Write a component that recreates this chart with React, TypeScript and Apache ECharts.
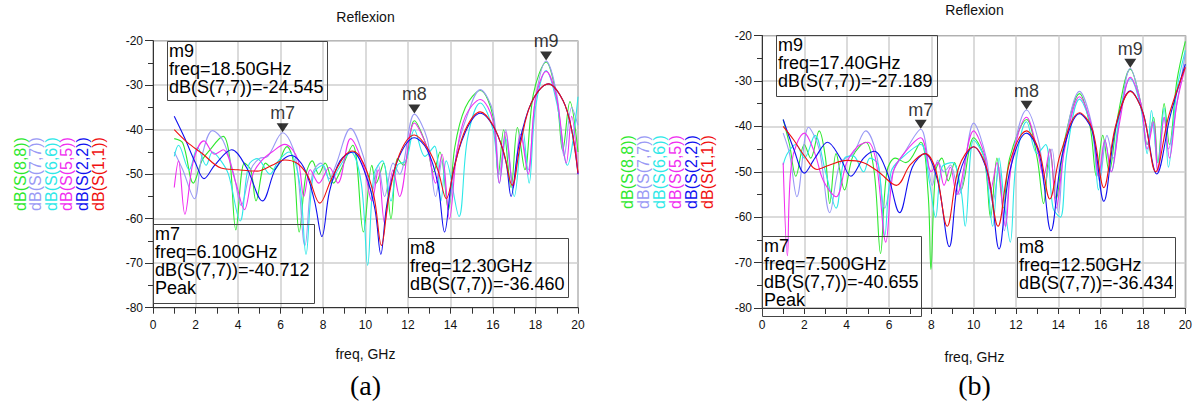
import React, { useEffect, useRef } from "react";
import * as echarts from "echarts";

type Pt = [number, number];

const seriesNames = ["dB(S(8,8))", "dB(S(7,7))", "dB(S(6,6))", "dB(S(5,5))", "dB(S(2,2))", "dB(S(1,1))"];
const seriesColors = ["#2ee82e", "#9a9af5", "#2ee8e8", "#f02ef0", "#1010f0", "#f01010"];

// ---------- panel (a) ----------
const s88a: Pt[] = [[1,-42],[1.4,-43],[1.9,-52],[2.3,-47],[2.6,-45],[3.3,-41.5],[3.6,-46],[3.9,-62.5],[4.3,-47.5],[4.6,-49],[4.85,-56],[5.3,-47.5],[5.7,-49],[6.3,-43.8],[6.6,-47],[6.88,-63],[7.2,-50],[7.5,-47],[7.8,-50],[8.1,-47.5],[8.5,-52],[8.75,-50],[9.4,-43.5],[9.9,-63],[10.3,-48],[10.5,-52],[10.85,-47.5],[11.2,-60],[11.5,-46.5],[11.8,-48],[12.3,-38],[12.9,-44],[13.2,-49.5],[13.5,-45],[13.9,-58],[14.2,-44],[14.7,-35],[15.4,-31.2],[16.0,-37],[16.25,-50],[16.5,-40],[16.85,-53],[17.15,-39.5],[17.5,-49],[17.9,-32],[18.5,-24.8],[19.0,-33],[19.28,-44.7],[19.62,-33.7],[20,-45]];
const s77a: Pt[] = [[1,-45],[1.4,-49],[1.95,-55.5],[2.3,-46],[2.8,-40.2],[3.3,-42.5],[3.8,-50],[4.15,-57],[4.6,-49],[5.0,-46.5],[5.4,-46],[6.1,-40.7],[6.7,-46],[7.15,-66],[7.5,-50],[7.9,-47.5],[8.3,-51],[8.6,-48],[9.3,-39.7],[9.9,-46],[10.3,-54],[10.6,-48],[10.9,-55],[11.3,-47.5],[11.6,-50],[12.3,-36.5],[12.9,-42],[13.3,-55],[13.6,-47],[13.9,-57],[14.3,-45],[14.7,-38],[15.4,-31],[16.0,-36],[16.3,-50],[16.6,-40],[16.95,-53],[17.3,-40],[17.65,-49],[18.0,-33],[18.5,-24.55],[19.0,-32],[19.35,-46],[19.7,-35],[20,-39]];
const s66a: Pt[] = [[1,-46],[1.2,-43.5],[1.7,-49],[2.1,-44],[2.5,-48],[2.8,-45],[3.2,-47],[3.55,-50],[4.1,-60.5],[4.5,-48],[4.9,-46.5],[5.5,-50],[5.9,-47],[6.4,-45],[6.9,-52],[7.2,-68],[7.55,-50],[8.0,-48],[8.35,-52],[8.7,-49],[9.3,-45],[9.8,-52],[10.1,-70.5],[10.4,-50],[10.8,-47],[11.2,-56],[11.5,-48],[11.9,-47],[12.3,-40],[12.8,-46],[13.25,-43.7],[13.55,-56],[13.8,-47],[14.4,-59.5],[14.8,-42],[15.4,-34],[16.0,-40],[16.3,-52],[16.6,-42],[17.0,-55],[17.4,-40],[17.7,-52],[18.0,-35],[18.5,-26.7],[19.0,-34],[19.5,-48],[20,-32.6]];
const s55a: Pt[] = [[1,-53],[1.2,-47],[1.5,-59],[1.9,-47],[2.4,-42.5],[2.9,-45.5],[3.3,-44.5],[3.9,-52],[4.3,-58],[4.7,-50],[5.1,-47],[5.6,-45],[6.2,-43.3],[6.8,-46.5],[7.1,-55],[7.4,-49],[7.8,-52],[8.3,-48.5],[8.7,-52],[9.3,-42],[9.9,-48],[10.3,-56],[10.6,-49],[10.9,-61],[11.3,-49],[11.6,-55],[12.3,-38.5],[12.9,-44],[13.3,-52],[13.6,-45.5],[13.95,-60],[14.3,-45],[14.7,-37],[15.4,-33.2],[16.0,-38],[16.3,-52],[16.6,-40.5],[16.95,-53],[17.3,-41],[17.65,-50],[18.0,-33],[18.5,-26.9],[19.0,-33],[19.45,-47.5],[19.7,-37],[20,-50]];
const s22a: Pt[] = [[1,-37],[1.5,-42],[2.0,-47.5],[2.4,-51],[2.9,-48],[3.7,-44.5],[4.4,-48.5],[5.15,-56],[5.8,-48.5],[6.5,-45.8],[7.1,-48.5],[7.6,-56],[7.95,-64],[8.3,-54],[8.8,-47],[9.4,-45],[10.0,-50],[10.45,-58],[10.72,-68],[11.0,-57],[11.5,-47],[12.3,-41.8],[12.9,-44.5],[13.4,-52],[13.72,-63],[14.1,-50],[14.7,-40.5],[15.4,-36.3],[16.1,-40],[16.6,-47],[16.85,-55],[17.2,-44],[17.8,-34],[18.6,-29.7],[19.3,-33.5],[19.7,-40],[20,-50]];
const s11a: Pt[] = [[1,-40],[1.6,-42.8],[2.3,-45.3],[3.2,-48.6],[4.0,-49],[4.9,-49.3],[5.6,-48],[6.2,-46.8],[6.8,-47.6],[7.3,-50.5],[7.85,-56.5],[8.4,-51],[9.0,-46],[9.4,-44.8],[9.9,-47.5],[10.4,-55],[10.75,-66],[11.1,-55],[11.6,-45.5],[12.3,-41.2],[12.9,-44],[13.4,-49],[13.8,-55.5],[14.2,-48],[14.7,-40],[15.4,-36],[16.0,-39],[16.5,-45],[16.9,-52.5],[17.3,-43],[17.8,-34],[18.6,-29.7],[19.3,-33.5],[19.7,-40],[20,-49.7]];

// ---------- panel (b) ----------
const s88b: Pt[] = [[1,-38.5],[1.3,-44],[1.6,-51],[2.0,-44],[2.3,-47],[2.7,-41],[3.0,-47],[3.2,-57],[3.5,-46],[3.9,-54],[4.3,-46.5],[4.9,-43.5],[5.3,-50],[5.6,-68],[5.9,-50],[6.3,-47],[6.8,-48],[7.5,-43.5],[7.85,-55],[7.98,-71.5],[8.2,-50],[8.5,-47],[8.8,-52],[9.1,-48],[9.4,-54],[10.0,-42.5],[10.5,-47],[10.8,-60],[11.1,-47],[11.4,-58],[11.7,-47],[12.5,-38.5],[13.0,-47],[13.3,-57],[13.6,-45],[13.9,-56],[14.3,-43],[15.0,-32.8],[15.5,-40],[15.8,-51],[16.1,-42],[16.4,-50],[16.8,-38],[17.4,-27.4],[17.9,-35],[18.2,-44],[18.5,-38],[18.7,-48],[19.0,-35],[19.25,-44],[19.6,-30],[20,-21.3]];
const s77b: Pt[] = [[1,-41.5],[1.3,-46],[1.65,-55.5],[2.2,-40.2],[2.7,-45],[3.2,-59],[3.7,-48],[4.3,-46],[4.9,-41],[5.4,-46],[5.8,-58],[6.2,-50],[6.7,-46],[7.5,-40.65],[8.05,-53],[8.3,-47.5],[8.6,-50],[8.9,-48.5],[9.3,-55],[10.0,-39.3],[10.6,-47],[10.9,-57],[11.2,-49],[11.45,-63],[11.8,-47.5],[12.5,-36.4],[13.1,-44],[13.35,-53],[13.7,-45],[14.0,-59],[14.3,-44],[15.0,-32.3],[15.6,-40],[15.95,-52],[16.3,-42],[16.6,-47],[16.9,-38],[17.4,-27.2],[17.9,-35],[18.2,-44],[18.45,-39],[18.7,-50],[19.0,-38],[19.2,-45],[19.6,-35],[20,-24]];
const s66b: Pt[] = [[1,-48.5],[1.2,-46],[1.6,-44],[2.0,-47],[2.5,-42],[3.0,-50],[3.5,-58],[3.9,-47],[4.3,-46.5],[4.8,-50],[5.1,-47],[5.5,-48.5],[5.8,-64],[6.1,-50],[6.6,-47],[7.5,-44],[7.9,-52],[8.2,-60],[8.5,-49],[9.0,-48],[9.4,-54],[9.6,-62],[10.0,-43],[10.5,-47],[10.9,-62],[11.2,-47],[11.45,-57],[11.73,-65.5],[12.0,-48],[12.5,-39],[13.0,-46],[13.4,-44],[13.75,-58],[14.1,-60],[14.4,-46],[15.0,-34],[15.6,-41],[15.9,-54],[16.2,-43],[16.5,-50],[16.9,-37],[17.4,-29.5],[17.9,-36],[18.2,-46],[18.4,-36.5],[18.7,-48],[19.0,-36],[19.2,-49],[19.6,-32],[20,-23.3]];
const s55b: Pt[] = [[1,-48],[1.2,-68.5],[1.4,-48],[2.0,-41.5],[2.5,-46],[2.9,-52],[3.5,-55.5],[4.0,-48],[4.5,-44.5],[5.0,-43.5],[5.4,-48],[5.85,-65.5],[6.2,-50],[6.7,-46],[7.5,-42.5],[8.0,-50],[8.3,-48],[8.6,-53],[8.9,-49],[9.2,-55],[10.0,-41],[10.5,-46],[10.8,-54],[11.1,-48],[11.5,-62],[11.8,-48],[12.5,-38],[13.0,-45],[13.3,-51],[13.6,-45],[13.9,-58],[14.3,-45],[15.0,-33.5],[15.6,-40.5],[15.9,-51],[16.2,-43],[16.5,-50],[16.9,-39],[17.4,-29.2],[17.9,-35],[18.2,-45],[18.5,-39],[18.7,-50],[19.0,-38],[19.25,-47],[19.6,-35],[20,-27]];
const s22b: Pt[] = [[1,-38.5],[1.5,-45],[2.0,-50.3],[2.5,-47],[3.1,-43.5],[3.7,-47],[4.2,-51],[4.8,-47],[5.3,-45.5],[5.9,-50],[6.5,-59],[7.1,-49],[7.7,-46],[8.3,-52],[8.85,-66.5],[9.3,-51],[10.0,-44.5],[10.7,-51],[11.2,-67],[11.7,-50],[12.5,-41.5],[13.1,-46],[13.65,-63],[14.2,-46],[15.0,-37.2],[15.6,-41],[16.15,-56.5],[16.7,-40.5],[17.4,-32.2],[18.0,-37],[18.65,-50.5],[19.3,-37.5],[20,-26.3]];
const s11b: Pt[] = [[1,-40],[1.5,-43],[2.0,-46.5],[2.6,-49.5],[3.2,-48.5],[4.0,-47.5],[4.8,-48],[5.5,-50],[6.35,-53],[7.0,-48.5],[7.7,-46],[8.2,-49.5],[8.75,-62],[9.3,-49],[10.0,-44.5],[10.6,-49],[11.15,-62],[11.7,-48],[12.5,-41],[13.1,-45.5],[13.6,-56],[14.1,-46],[15.0,-37],[15.6,-40.5],[16.15,-53.5],[16.7,-40],[17.4,-32.3],[18.0,-37],[18.6,-50],[19.2,-38],[20,-27]];

// markers: name, freq (GHz), dB(S(7,7))
const markerNamesA = ["m7", "m8", "m9"];
const markerFreqA = [6.1, 12.3, 18.5];
const markerDbA = [-40.712, -36.46, -24.545];
const markerNamesB = ["m7", "m8", "m9"];
const markerFreqB = [7.5, 12.5, 17.4];
const markerDbB = [-40.655, -36.434, -27.189];

const xMin = 0, xMax = 20, xStep = 2;
const yMin = -80, yMax = -20, yStep = 10;

const FONT = "'Liberation Sans', Arial, sans-serif";

interface Panel {
  left: number; top: number; width: number; height: number;
  data: Pt[][];
  mNames: string[]; mFreq: number[]; mDb: number[];
  boxes: number[][]; // [x, y, w, h] for m7, m8, m9
  legendX: number; legendY: number; legendStep: number; legendFont: number;
  titleY: number; nameY: number; tag: string;
}

const panels: Panel[] = [
  {
    left: 153, top: 40.7, width: 425, height: 267,
    data: [s88a, s77a, s66a, s55a, s22a, s11a],
    mNames: markerNamesA, mFreq: markerFreqA, mDb: markerDbA,
    boxes: [[153, 224, 161, 79], [408, 238, 160, 59], [167, 41, 160, 59]],
    legendX: 20, legendY: 174, legendStep: 15.6, legendFont: 16,
    titleY: 17, nameY: 354, tag: "(a)",
  },
  {
    left: 762, top: 35.5, width: 425, height: 272.5,
    data: [s88b, s77b, s66b, s55b, s22b, s11b],
    mNames: markerNamesB, mFreq: markerFreqB, mDb: markerDbB,
    boxes: [[762, 236, 159, 80], [1017, 237, 158, 60], [776, 35, 161, 61]],
    legendX: 627, legendY: 172, legendStep: 16.1, legendFont: 16,
    titleY: 10, nameY: 357, tag: "(b)",
  },
];

function fmtFreq(f: number) {
  return f.toPrecision(4) + "GHz";
}

function buildOption() {
  const grid: any[] = [];
  const xAxis: any[] = [];
  const yAxis: any[] = [];
  const series: any[] = [];
  const graphic: any[] = [];

  panels.forEach((p, pi) => {
    grid.push({
      left: p.left, top: p.top, width: p.width, height: p.height,
      show: true, borderColor: "#555", borderWidth: 1, backgroundColor: "transparent",
    });
    xAxis.push({
      type: "value", gridIndex: pi, min: xMin, max: xMax, interval: xStep,
      axisLine: { show: true, lineStyle: { color: "#333", width: 1 } },
      axisTick: { show: true, inside: false, length: 6, lineStyle: { color: "#333" } },
      minorTick: { show: true, splitNumber: 2, length: 6, lineStyle: { color: "#333" } },
      axisLabel: { color: "#111", fontSize: 12, fontFamily: FONT, margin: 11 },
      splitLine: { show: true, lineStyle: { color: "#cfcfcf", width: 1.5 } },
    });
    yAxis.push({
      type: "value", gridIndex: pi, min: yMin, max: yMax, interval: yStep,
      axisLine: { show: true, lineStyle: { color: "#333", width: 1 } },
      axisTick: { show: true, inside: false, length: 8, lineStyle: { color: "#333" } },
      minorTick: { show: true, splitNumber: 2, length: 5, lineStyle: { color: "#333" } },
      axisLabel: { color: "#111", fontSize: 12, fontFamily: FONT, margin: 10 },
      splitLine: { show: true, lineStyle: { color: "#cfcfcf", width: 1.5 } },
    });

    p.data.forEach((d, si) => {
      series.push({
        type: "line", name: seriesNames[si] + pi, xAxisIndex: pi, yAxisIndex: pi,
        data: d, smooth: 0.35, showSymbol: false, symbol: "none",
        lineStyle: { color: seriesColors[si], width: 1.1 },
        z: 2 + si,
      });
    });

    series.push({
      type: "scatter", xAxisIndex: pi, yAxisIndex: pi, z: 20,
      data: p.mFreq.map((f, i) => ({ name: p.mNames[i], value: [f, p.mDb[i]] })),
      symbol: "triangle", symbolRotate: 180, symbolSize: [12, 9], symbolOffset: [0, -5],
      itemStyle: { color: "#000" },
      label: {
        show: true, position: "top", distance: 1, formatter: "{b}",
        fontSize: 18, color: "#000", fontFamily: FONT,
      },
    });

    // marker boxes
    p.boxes.forEach((b, i) => {
      const lines = [p.mNames[i], "freq=" + fmtFreq(p.mFreq[i]), "dB(S(7,7))=" + p.mDb[i].toFixed(3)];
      if (i === 0) lines.push("Peak");
      graphic.push({
        type: "rect", z: 30,
        shape: { x: b[0] + 0.5, y: b[1] + 0.5, width: b[2], height: b[3] },
        style: { fill: "none", stroke: "#444", lineWidth: 1 },
      });
      graphic.push({
        type: "text", z: 31, x: b[0] + 2, y: b[1] + 0.5,
        style: {
          text: lines.join("\n"), font: `18px ${FONT}`, fill: "#000",
          lineHeight: 18.2, textAlign: "left", textVerticalAlign: "top",
        },
      });
    });

    // legend (rotated, reading bottom to top)
    seriesNames.forEach((n, si) => {
      graphic.push({
        type: "text", x: p.legendX + si * p.legendStep, y: p.legendY, rotation: Math.PI / 2,
        style: {
          text: n, font: `${p.legendFont}px ${FONT}`, fill: seriesColors[si],
          textAlign: "center", textVerticalAlign: "middle",
        },
      });
    });

    const cx = p.left + p.width / 2;
    graphic.push({
      type: "text", x: cx, y: p.titleY,
      style: { text: "Reflexion", font: `14px ${FONT}`, fill: "#111", textAlign: "center", textVerticalAlign: "middle" },
    });
    graphic.push({
      type: "text", x: cx, y: p.nameY,
      style: { text: "freq, GHz", font: `14px ${FONT}`, fill: "#111", textAlign: "center", textVerticalAlign: "middle" },
    });
    graphic.push({
      type: "text", x: cx, y: 385,
      style: { text: p.tag, font: `28px 'Liberation Serif', 'Times New Roman', serif`, fill: "#000", textAlign: "center", textVerticalAlign: "middle" },
    });
  });

  return {
    animation: false,
    backgroundColor: "#fff",
    grid, xAxis, yAxis, series, graphic,
  };
}

export default function App() {
  const ref = useRef<HTMLDivElement>(null);
  useEffect(() => {
    document.body.style.margin = "0";
    const chart = echarts.init(ref.current!, undefined, { renderer: "svg" });
    chart.setOption(buildOption() as any);
    return () => chart.dispose();
  }, []);
  return <div ref={ref} style={{ position: "absolute", left: 0, top: 0, width: 1195, height: 405 }} />;
}
